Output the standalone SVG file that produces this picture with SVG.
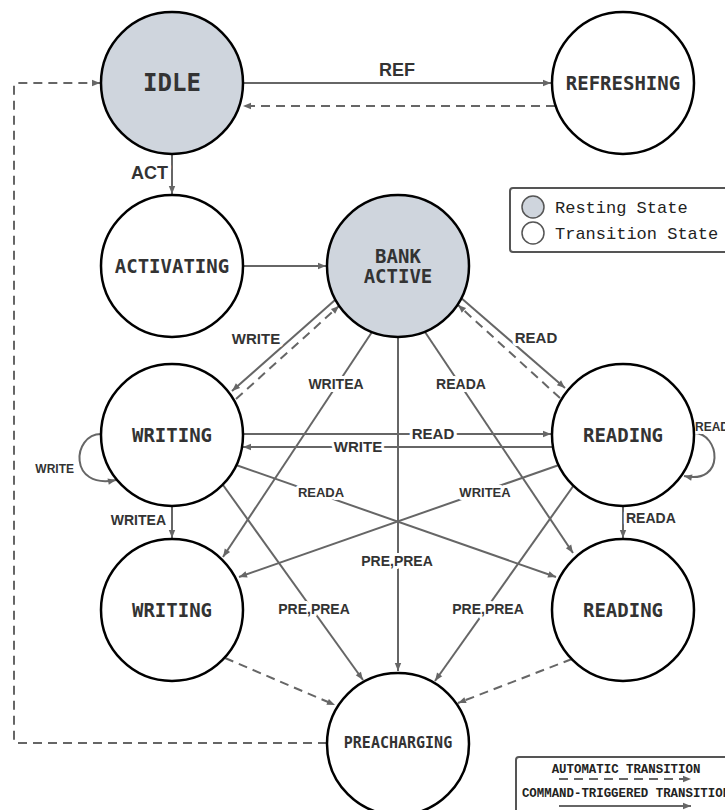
<svg xmlns="http://www.w3.org/2000/svg" width="725" height="810" viewBox="0 0 725 810">
<defs>
<style>
.node{stroke:#000;stroke-width:2.5}
.rest{fill:#cfd5dd}
.trans{fill:#fff}
.nt{font-family:"DejaVu Sans Mono","Liberation Mono",monospace;font-weight:bold;fill:#333;text-anchor:middle;dominant-baseline:central}
.e{fill:none;stroke:#666;stroke-width:2}
.d{stroke-dasharray:9 6}
.lbl{font-family:"Liberation Sans",Arial,sans-serif;font-weight:bold;fill:#333;paint-order:stroke;stroke:#fff;stroke-width:6px;stroke-linejoin:round}
.leg{font-family:"Liberation Mono","DejaVu Sans Mono",monospace;fill:#222}
</style>
<marker id="arr" viewBox="0 0 10 10" refX="10" refY="5" markerWidth="9" markerHeight="8" markerUnits="userSpaceOnUse" orient="auto">
<path d="M0,1 L10,5 L0,9 z" fill="#666"/>
</marker>
</defs>
<rect width="725" height="810" fill="#fff"/>

<g id="connectors">
<path class="e" d="M243,83 L551,83" marker-end="url(#arr)"/>
<path class="e d" d="M555,106 L243,106" marker-end="url(#arr)"/>
<path class="e" d="M172,154 L172,194" marker-end="url(#arr)"/>
<path class="e" d="M243,266 L326,266" marker-end="url(#arr)"/>
<path class="e" d="M335,300 L232,391" marker-end="url(#arr)"/>
<path class="e d" d="M236,399 L339,306" marker-end="url(#arr)"/>
<path class="e" d="M460,297 L565,388" marker-end="url(#arr)"/>
<path class="e d" d="M560,398 L458,305" marker-end="url(#arr)"/>
<path class="e" d="M372,332 L223,557" marker-end="url(#arr)"/>
<path class="e" d="M425,332 L573,553" marker-end="url(#arr)"/>
<path class="e" d="M398,337 L398,671" marker-end="url(#arr)"/>
<path class="e" d="M243,434 L551,434" marker-end="url(#arr)"/>
<path class="e" d="M553,447 L243,447" marker-end="url(#arr)"/>
<path class="e" d="M101,434 C72,434 68,490 116,480" marker-end="url(#arr)"/>
<path class="e" d="M694,433 C720,433 726,485 684,476" marker-end="url(#arr)"/>
<path class="e" d="M172,506 L172,538" marker-end="url(#arr)"/>
<path class="e" d="M623,506 L623,538" marker-end="url(#arr)"/>
<path class="e" d="M236,465 L556,577" marker-end="url(#arr)"/>
<path class="e" d="M559,465 L239,577" marker-end="url(#arr)"/>
<path class="e" d="M223,485 L363,680" marker-end="url(#arr)"/>
<path class="e" d="M574,485 L435,681" marker-end="url(#arr)"/>
<path class="e d" d="M225,658 L335,705" marker-end="url(#arr)"/>
<path class="e d" d="M572,659 L458,703" marker-end="url(#arr)"/>
<path class="e d" d="M327,743 L16,743 Q14,743 14,741 L14,85 Q14,83 16,83 L100,83" marker-end="url(#arr)"/>

<text class="lbl" x="397" y="76" font-size="18" text-anchor="middle">REF</text>
<text class="lbl" x="168" y="179" font-size="18" text-anchor="end">ACT</text>
<text class="lbl" x="256" y="344" font-size="15" text-anchor="middle">WRITE</text>
<text class="lbl" x="536" y="343" font-size="15" text-anchor="middle">READ</text>
<text class="lbl" x="336" y="389" font-size="14" text-anchor="middle">WRITEA</text>
<text class="lbl" x="461" y="389" font-size="14" text-anchor="middle">READA</text>
<text class="lbl" x="433" y="439" font-size="15" text-anchor="middle">READ</text>
<text class="lbl" x="358" y="452" font-size="15" text-anchor="middle">WRITE</text>
<text class="lbl" x="74" y="473" font-size="12" text-anchor="end">WRITE</text>
<text class="lbl" x="695" y="431" font-size="12">READ</text>
<text class="lbl" x="166" y="525" font-size="14" text-anchor="end">WRITEA</text>
<text class="lbl" x="626" y="523" font-size="14">READA</text>
<text class="lbl" x="321" y="497" font-size="13" text-anchor="middle">READA</text>
<text class="lbl" x="485" y="497" font-size="13" text-anchor="middle">WRITEA</text>
<text class="lbl" x="397" y="566" font-size="14" text-anchor="middle">PRE,PREA</text>
<text class="lbl" x="314" y="614" font-size="14" text-anchor="middle">PRE,PREA</text>
<text class="lbl" x="488" y="614" font-size="14" text-anchor="middle">PRE,PREA</text>
</g>

<g id="idle"><circle class="node rest" cx="172" cy="83" r="71"/><text class="nt" x="172" y="83" font-size="24">IDLE</text></g>
<g id="refreshing"><circle class="node trans" cx="623" cy="83" r="71"/><text class="nt" x="623" y="83" font-size="19">REFRESHING</text></g>
<g id="activating"><circle class="node trans" cx="172" cy="266" r="71"/><text class="nt" x="172" y="266" font-size="19">ACTIVATING</text></g>
<g id="bank-active"><circle class="node rest" cx="398" cy="266" r="71"/><text class="nt" x="398" y="256" font-size="19">BANK</text><text class="nt" x="398" y="276" font-size="19">ACTIVE</text></g>
<g id="writing"><circle class="node trans" cx="172" cy="435" r="71"/><text class="nt" x="172" y="435" font-size="19">WRITING</text></g>
<g id="reading"><circle class="node trans" cx="623" cy="435" r="71"/><text class="nt" x="623" y="435" font-size="19">READING</text></g>
<g id="writing-auto"><circle class="node trans" cx="172" cy="610" r="71"/><text class="nt" x="172" y="610" font-size="19">WRITING</text></g>
<g id="reading-auto"><circle class="node trans" cx="623" cy="610" r="71"/><text class="nt" x="623" y="610" font-size="19">READING</text></g>
<g id="precharging"><circle class="node trans" cx="398" cy="744" r="71"/><text class="nt" x="398" y="743" font-size="15">PREACHARGING</text></g>

<g id="legend-states">
<rect x="510" y="188" width="230" height="64" rx="3" fill="#fff" stroke="#555" stroke-width="2"/>
<circle cx="533" cy="207" r="11" fill="#cfd5dd" stroke="#555" stroke-width="1.5"/>
<circle cx="533" cy="233" r="11" fill="#fff" stroke="#555" stroke-width="1.5"/>
<text class="leg" x="555" y="213" font-size="17">Resting State</text>
<text class="leg" x="555" y="239" font-size="17">Transition State</text>
</g>

<g id="legend-transitions">
<rect x="516" y="757" width="230" height="70" rx="3" fill="#fff" stroke="#555" stroke-width="2"/>
<text class="leg" x="626" y="773" font-size="12.4" font-weight="bold" text-anchor="middle">AUTOMATIC TRANSITION</text>
<path class="e d" d="M559,779 L691,779" marker-end="url(#arr)"/>
<text class="leg" x="626" y="797" font-size="12.4" font-weight="bold" text-anchor="middle">COMMAND-TRIGGERED TRANSITION</text>
<path class="e" d="M559,806 L691,806" marker-end="url(#arr)"/>
</g>
</svg>
